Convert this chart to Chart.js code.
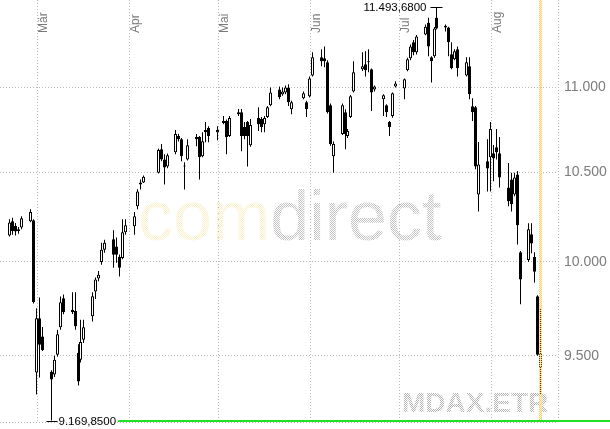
<!DOCTYPE html>
<html>
<head>
<meta charset="utf-8">
<script src="https://cdn.jsdelivr.net/npm/chart.js@4.4.1/dist/chart.umd.min.js"></script>
<style>
  html, body { margin: 0; padding: 0; background: #fff; overflow: hidden; }
  canvas { display: block; }
</style>
</head>
<body>
<canvas id="myChart" width="610" height="429"></canvas>
<script>
// MDAX daily candles, Feb - Aug 2007
const dates = [
  '2007-02-19','2007-02-20','2007-02-21','2007-02-22','2007-02-23','2007-02-26','2007-02-27','2007-02-28',
  '2007-03-01','2007-03-02','2007-03-05','2007-03-06','2007-03-07','2007-03-08','2007-03-09',
  '2007-03-12','2007-03-13','2007-03-14','2007-03-15','2007-03-16','2007-03-19','2007-03-20','2007-03-21',
  '2007-03-22','2007-03-23','2007-03-26','2007-03-27','2007-03-28','2007-03-29','2007-03-30',
  '2007-04-02','2007-04-03','2007-04-04','2007-04-05','2007-04-10','2007-04-11','2007-04-12','2007-04-13',
  '2007-04-16','2007-04-17','2007-04-18','2007-04-19','2007-04-20','2007-04-23','2007-04-24','2007-04-25',
  '2007-04-26','2007-04-27','2007-04-30',
  '2007-05-02','2007-05-03','2007-05-04','2007-05-07','2007-05-08','2007-05-09','2007-05-10','2007-05-11',
  '2007-05-14','2007-05-15','2007-05-16','2007-05-17','2007-05-18','2007-05-21','2007-05-22','2007-05-23',
  '2007-05-24','2007-05-25','2007-05-29','2007-05-30','2007-05-31',
  '2007-06-01','2007-06-04','2007-06-05','2007-06-06','2007-06-07','2007-06-08','2007-06-11','2007-06-12',
  '2007-06-13','2007-06-14','2007-06-15','2007-06-18','2007-06-19','2007-06-20','2007-06-21','2007-06-22',
  '2007-06-25','2007-06-26','2007-06-27','2007-06-28','2007-06-29',
  '2007-07-02','2007-07-03','2007-07-04','2007-07-05','2007-07-06','2007-07-09','2007-07-10','2007-07-11',
  '2007-07-12','2007-07-13','2007-07-16','2007-07-17','2007-07-18','2007-07-19','2007-07-20','2007-07-23',
  '2007-07-24','2007-07-25','2007-07-26','2007-07-27','2007-07-30','2007-07-31',
  '2007-08-01','2007-08-02','2007-08-03','2007-08-06','2007-08-07','2007-08-08','2007-08-09','2007-08-10',
  '2007-08-13','2007-08-14','2007-08-15','2007-08-16','2007-08-17'
];
const opens = [
  10146,10225,10200,10180,10190,10225,10230,9413,
  9697,9600,9418,9403,9505,9649,9803,
  9742,9735,9516,9480,9583,9707,9840,9910,
  10000,10067,10124,10084,10028,10022,10163,
  10197,10309,10432,10443,10500,10635,10576,10535,
  10618,10712,10694,10541,10576,10706,10706,10594,
  10747,10759,10735,
  10800,10800,10712,10841,10853,10765,10794,10659,
  10818,10812,10782,10824,10894,10988,10959,10970,
  11000,10870,10935,10912,10947,
  11073,11183,11177,11153,10894,10594,10724,10853,
  10712,10824,10976,11110,11140,11159,11110,10988,
  10929,10894,10794,10830,11006,
  10994,11104,11177,11275,11214,11323,11397,11183,
  11189,11427,11378,11366,11201,11171,11232,11073,
  11128,10888,10882,10376,10565,10588,
  10612,10647,10612,10415,10460,10376,10489,10053,
  10011,10152,10027,9814,9439
];
const highs = [
  10236,10245,10215,10192,10253,10292,10236,9750,
  9808,9650,9425,9500,9636,9813,9824,
  9836,9836,9560,9689,9689,9836,9915,9950,
  10106,10122,10174,10135,10040,10236,10236,
  10276,10405,10460,10483,10640,10665,10606,10610,
  10747,10725,10700,10560,10694,10724,10712,10735,
  10794,10770,10770,
  10830,10810,10830,10871,10871,10794,10800,10812,
  10882,10824,10830,10890,11000,11006,11000,11012,
  11020,10920,10976,10920,11067,
  11214,11232,11250,11165,10905,10680,10905,10870,
  10753,10955,11159,11214,11220,11232,11115,11012,
  10960,10900,10800,10970,11037,
  11055,11180,11262,11290,11320,11385,11427,11190,
  11370,11493.68,11385,11372,11275,11232,11250,11183,
  11183,10935,10890,10677,10694,10794,
  10660,10753,10706,10556,10500,10500,10510,10060,
  10213,10213,10053,9820,9750
];
const lows = [
  10140,10150,10145,10155,10180,10219,9775,9301,
  9388,9525,9169.85,9390,9495,9636,9718,
  9720,9636,9347,9465,9567,9680,9800,9895,
  9984,10050,9968,9995,9920,10015,10150,
  10150,10292,10403,10440,10495,10565,10432,10525,
  10606,10680,10565,10403,10570,10653,10460,10588,
  10676,10676,10688,
  10782,10606,10706,10830,10624,10694,10535,10650,
  10741,10735,10735,10818,10888,10930,10950,10960,
  10890,10841,10930,10824,10940,
  11067,11128,11122,10845,10655,10500,10718,10635,
  10700,10818,10970,11100,11067,11092,10859,10976,
  10830,10824,10712,10820,11000,
  10929,11098,11165,11195,11200,11318,11189,11030,
  11180,11355,11342,11189,11110,11165,11067,11067,
  10930,10800,10520,10280,10393,10393,
  10450,10576,10415,10309,10280,10365,10095,9771,
  10000,10048,9888,9500,9301
];
const closes = [
  10218,10170,10168,10170,10242,10276,9782,9697,
  9558,9530,9378,9480,9612,9782,9729,
  9729,9655,9367,9572,9649,9814,9904,9930,
  10067,10106,10039,10039,9968,10163,10202,
  10253,10392,10443,10477,10630,10576,10529,10600,
  10724,10694,10594,10535,10659,10694,10588,10682,
  10735,10712,10747,
  10788,10706,10818,10853,10712,10712,10712,10777,
  10782,10765,10818,10882,10970,10941,10976,11000,
  10912,10912,10965,10871,11055,
  11183,11159,11159,10853,10665,10665,10894,10724,
  10741,10947,11092,11128,11104,11153,10970,11006,
  10953,10853,10765,10965,11024,
  11049,11171,11250,11214,11311,11372,11250,11159,
  11360,11360,11366,11275,11116,11220,11116,11153,
  10959,10853,10535,10547,10524,10753,
  10582,10618,10472,10337,10320,10472,10202,9904,
  10180,10101,9947,9505,9515
];

const yTicks = [9500, 10000, 10500, 11000];
const monthStarts = ['2007-03-01','2007-04-01','2007-05-01','2007-06-01','2007-07-01','2007-08-01'];
const monthLabels = ['Mär','Apr','Mai','Jun','Jul','Aug'];

const day0 = Date.parse('2007-01-01');
function dayNum(s) { return (Date.parse(s) - day0) / 86400000; }

function fmtThousands(str) { return str.replace(/\B(?=(\d{3})+(?!\d))/g, '.'); }
function fmtTick(v) { return fmtThousands(String(Math.round(v))); }
function fmtPrice(v) {
  const parts = v.toFixed(4).split('.');
  return fmtThousands(parts[0]) + ',' + parts[1];
}

function dither(ctx, color) {
  const c = document.createElement('canvas');
  c.width = 2; c.height = 2;
  const g = c.getContext('2d');
  g.fillStyle = color;
  g.fillRect(0, 0, 1, 1);
  g.fillRect(1, 1, 1, 1);
  return ctx.createPattern(c, 'repeat');
}

const FONT = '"Liberation Sans", Arial, sans-serif';

// x range of the plot, in days since 1 Jan
const xMin = dayNum('2007-03-01') - 12.8;
const xMax = xMin + 188.1;

const decor = {
  id: 'decor',
  afterLayout(chart) {
    // snap candle centres to pixel centres
    const sx = chart.scales.x;
    sx.getPixelForValue = function (v, i) {
      return Math.floor(Object.getPrototypeOf(this).getPixelForValue.call(this, v, i)) + 0.5;
    };
  },
  beforeDatasetsDraw(chart) {
    const {ctx, scales: {x}} = chart;
    ctx.save();
    // watermarks
    ctx.textBaseline = 'alphabetic';
    ctx.textAlign = 'left';
    ctx.font = '70px ' + FONT;
    ctx.fillStyle = dither(ctx, '#f8efc6');
    ctx.fillText('com', 138, 240);
    const w = ctx.measureText('com').width;
    ctx.fillStyle = dither(ctx, '#c4c4c4');
    ctx.fillText('direct', 138 + w, 240);
    ctx.font = 'bold 28px ' + FONT;
    ctx.fillStyle = dither(ctx, '#b4b4b4');
    ctx.fillText('MDAX.ETR', 402, 412);

    // month labels, rotated
    ctx.fillStyle = '#7a7a7a';
    ctx.font = '12px ' + FONT;
    monthStarts.forEach((d, i) => {
      const px = x.getPixelForValue(dayNum(d));
      ctx.save();
      ctx.translate(px + 9.5, 33);
      ctx.rotate(-Math.PI / 2);
      ctx.fillText(monthLabels[i], 0, 0);
      ctx.restore();
    });
    ctx.restore();
  },
  afterDatasetsDraw(chart) {
    const {ctx, chartArea: a, scales: {x, y}} = chart;
    ctx.save();

    // dotted frame right and bottom
    ctx.strokeStyle = '#b8b8b8';
    ctx.lineWidth = 1;
    ctx.setLineDash([1, 2]);
    ctx.beginPath();
    ctx.moveTo(a.right + 0.5, a.top);
    ctx.lineTo(a.right + 0.5, a.bottom);
    ctx.moveTo(a.left, a.bottom + 0.5);
    ctx.lineTo(a.right, a.bottom + 0.5);
    ctx.stroke();
    ctx.setLineDash([]);

    // marker for the current day
    const last = dates.length - 1;
    const lx = x.getPixelForValue(dayNum(dates[last]) + 0.5);
    ctx.fillStyle = dither(ctx, '#ffcc66');
    ctx.fillRect(lx - 1.5, a.top, 3, a.bottom - a.top);
    ctx.fillStyle = 'rgba(255, 215, 120, 0.3)';
    ctx.fillRect(lx - 1.5, a.top, 3, a.bottom - a.top);

    // max / min annotations
    let hi = 0, lo = 0;
    highs.forEach((v, i) => { if (v > highs[hi]) hi = i; });
    lows.forEach((v, i) => { if (v < lows[lo]) lo = i; });

    ctx.fillStyle = '#000';
    ctx.font = '11.5px ' + FONT;
    ctx.textBaseline = 'middle';

    const hx = x.getPixelForValue(dayNum(dates[hi]) + 0.5);
    const hy = Math.round(y.getPixelForValue(highs[hi]));
    ctx.fillRect(hx - 6, hy, 12, 1);
    ctx.textAlign = 'right';
    ctx.fillText(fmtPrice(highs[hi]), hx - 10, hy + 0.5);

    const mx = x.getPixelForValue(dayNum(dates[lo]) + 0.5);
    const my = Math.round(y.getPixelForValue(lows[lo]));
    ctx.fillRect(mx - 5, my, 11, 1);
    ctx.textAlign = 'left';
    const lbl = fmtPrice(lows[lo]);
    ctx.fillText(lbl, mx + 7, my + 0.5);
    const tEnd = mx + 7 + ctx.measureText(lbl).width + 2;
    ctx.fillStyle = '#22e022';
    ctx.fillRect(tEnd, my - 1, chart.width - tEnd, 2);

    ctx.restore();
  }
};

const bodies = dates.map((d, i) => ({x: dayNum(d) + 0.5, y: [opens[i], closes[i]]}));
const wicks = dates.map((d, i) => ({x: dayNum(d) + 0.5, y: [lows[i], highs[i]]}));

new Chart(document.getElementById('myChart').getContext('2d'), {
  type: 'bar',
  data: {
    datasets: [{
      label: 'Körper',
      data: bodies,
      order: 0,
      grouped: false,
      barThickness: 3,
      minBarLength: 1,
      borderWidth: 1,
      borderSkipped: false,
      inflateAmount: 0,
      borderColor: '#000000',
      backgroundColor: (c) => closes[c.dataIndex] >= opens[c.dataIndex] ? '#ffffff' : '#000000'
    }, {
      label: 'Docht',
      data: wicks,
      order: 1,
      grouped: false,
      barThickness: 1,
      borderWidth: 0,
      inflateAmount: 0,
      backgroundColor: '#000000'
    }]
  },
  options: {
    responsive: false,
    animation: false,
    devicePixelRatio: 1,
    layout: {padding: 0},
    plugins: {legend: {display: false}, tooltip: {enabled: false}},
    scales: {
      x: {
        type: 'linear',
        bounds: 'data',
        offset: false,
        min: xMin,
        max: xMax,
        afterBuildTicks: (s) => { s.ticks = monthStarts.map(d => ({value: dayNum(d)})); },
        afterFit: (s) => { s.height = 7; s.paddingLeft = 0; s.paddingRight = 0; },
        ticks: {display: false},
        grid: {color: '#bcbcbc', lineWidth: 1, drawTicks: false, offset: false},
        border: {display: false, dash: [1, 2]}
      },
      y: {
        type: 'logarithmic',
        position: 'right',
        bounds: 'data',
        min: 9162.4,
        max: 11538.8,
        afterBuildTicks: (s) => { s.ticks = yTicks.map(v => ({value: v})); },
        afterFit: (s) => { s.width = 52; s.paddingTop = 0; s.paddingBottom = 0; },
        ticks: {
          callback: (v) => fmtTick(v),
          color: '#7c7c7c',
          font: {family: '"Liberation Sans", Arial, sans-serif', size: 14},
          padding: 6
        },
        grid: {color: '#bcbcbc', lineWidth: 1, drawTicks: false},
        border: {display: false, dash: [1, 2]}
      }
    }
  },
  plugins: [decor]
});
</script>
</body>
</html>
